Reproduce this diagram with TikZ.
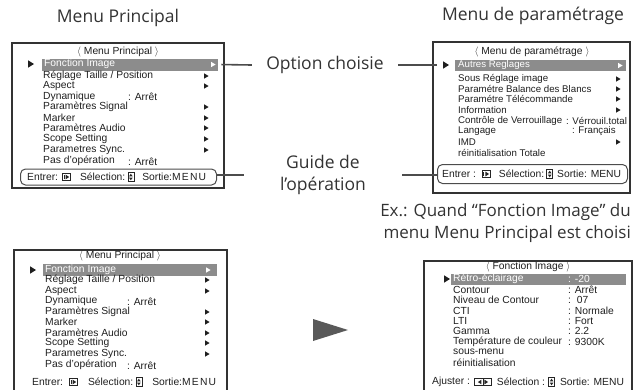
\documentclass[tikz,border=0pt]{standalone}
\usepackage{fontspec}
\setmainfont{Liberation Sans}
\newfontfamily\headfont{Open Sans}
\usetikzlibrary{positioning}

\tikzset{
  key/.style={draw=black!85, line width=0.6pt, inner sep=0pt, minimum width=8pt, minimum height=7pt},
  enterkey/.style={key, path picture={
      \fill[black!85] ([shift={(-1pt,-2.4pt)}]path picture bounding box.center) -- ++(3.6pt,2.4pt) -- ++(-3.6pt,2.4pt) -- cycle;
      \draw[black!85, line width=0.6pt] ([shift={(-2.8pt,-2.4pt)}]path picture bounding box.center) -- ++(0,4.8pt);}},
  selkey/.style={key, minimum width=6pt, minimum height=9pt, path picture={
      \fill[black!85] ([shift={(-1.8pt,0.7pt)}]path picture bounding box.center) -- ++(3.6pt,0) -- ++(-1.8pt,2.6pt) -- cycle;
      \fill[black!85] ([shift={(-1.8pt,-0.7pt)}]path picture bounding box.center) -- ++(3.6pt,0) -- ++(-1.8pt,-2.6pt) -- cycle;}},
  adjkey/.style={key, minimum width=17pt, path picture={
      \draw[black!85, line width=0.6pt] (path picture bounding box.north) -- (path picture bounding box.south);
      \fill[black!85] ([shift={(-1.5pt,-2.4pt)}]path picture bounding box.center) -- ++(-3.6pt,2.4pt) -- ++(3.6pt,2.4pt) -- cycle;
      \fill[black!85] ([shift={(1.5pt,-2.4pt)}]path picture bounding box.center) -- ++(3.6pt,2.4pt) -- ++(-3.6pt,2.4pt) -- cycle;}},
}

\begin{document}
\begin{tikzpicture}[x=1pt, y=-1pt,
    screen/.style={draw=black!80, line width=1.3pt},
    item/.style={anchor=west, inner sep=0pt, text=black!88, font=\fontsize{10.3}{11}\selectfont},
    itemsm/.style={item, font=\fontsize{9.7}{10}\selectfont},
    hlbar/.style={fill=black!45, inner sep=0pt, anchor=west, minimum height=12pt},
    heading/.style={inner sep=0pt, text=black!80, font=\headfont\fontsize{17.5}{22}\selectfont},
    guideframe/.style={draw=black!70, line width=1pt, rounded corners=5pt, inner sep=0pt, anchor=west},
    conn/.style={draw=black!70, line width=1.6pt},
    tri/.pic={\fill (-2,-2.7) -- (2.6,0) -- (-2,2.7) -- cycle;},
    mark/.pic={\fill (-2.8,-3.6) -- (3,0) -- (-2.8,3.6) -- cycle;},
  ]
  \useasboundingbox (0,0) rectangle (641,389);

  % Titles and callouts
  \node[heading] (h1) at (118,18) {Menu Principal};
  \node[heading] (h2) at (533,16) {Menu de paramétrage};
  \node[heading, minimum width=146pt] (opt) at (325,65) {Option choisie};
  \node[heading, minimum width=158pt, align=center] (guide) at (323,175) {Guide de\\l’opération};
  \node[heading, font=\headfont\fontsize{17}{22}\selectfont, anchor=east, align=right] (ex) at (631,223) {Ex.: Quand “Fonction Image” du\\menu Menu Principal est choisi};

  % Menu Principal (top)
  \draw[screen] (12,43) rectangle (224,188);
  \node[item, anchor=center] (t1) at (118,52) {$\langle$ Menu Principal $\rangle$};
  \node[hlbar, minimum width=176pt] (hl1) at (42,64.5) {};
  \pic[black!88] at (31,64) {mark};
  \node[item, text=white] (a1) at (44,64) {Fonction Image};
  \pic[white] at (213,64.5) {tri};
  \node[item] (a2) at (43,76) {Réglage Taille / Position};
  \node[item] (a3) at (43,86) {Aspect};
  \node[item] (a4) at (43,97) {Dynamique};
  \node[item] (a4v) at (128,97) {: Arrêt};
  \node[item] (a5) at (43,107) {Paramètres Signal};
  \node[item] (a6) at (43,118) {Marker};
  \node[item] (a7) at (43,128) {Paramètres Audio};
  \node[item] (a8) at (43,139) {Scope Setting};
  \node[item] (a9) at (43,150) {Parametres Sync.};
  \node[item] (a10) at (43,161) {Pas d’opération};
  \node[item] (a10v) at (128,162) {: Arrêt};
  \foreach \y in {76,86,107,118,128,139,150}
    \pic[black!88] at (206,\y) {tri};
  \node[guideframe, minimum width=196pt, minimum height=16pt] (fb1) at (20,177) {};
  \node[item] (e1) at (27,177) {Entrer:};
  \node[enterkey, right=4pt of e1] (k1) {};
  \node[item, right=9pt of k1] (s1) {Sélection:};
  \node[selkey, right=2pt of s1] (k2) {};
  \node[item, right=8pt of k2] (o1) {Sortie:{\addfontfeatures{LetterSpace=12}MENU}};

  % Menu de parametrage
  \draw[screen] (433,42) rectangle (630,193);
  \node[item, anchor=center] (t2) at (532,52) {$\langle$ Menu de paramétrage $\rangle$};
  \node[hlbar, minimum width=171pt, minimum height=11pt] (hl2) at (455,65.5) {};
  \coordinate (m2) at (446,65);
  \pic[black!88] at (m2) {mark};
  \node[itemsm, text=white] (b1) at (458,65) {Autres Reglages};
  \pic[white] at (620,65.5) {tri};
  \node[itemsm] (b2) at (458,79) {Sous Réglage image};
  \node[itemsm] (b3) at (458,89) {Paramétre Balance des Blancs};
  \node[itemsm] (b4) at (458,99) {Paramétre Télécommande};
  \node[itemsm] (b5) at (458,110) {Information};
  \node[itemsm] (b6) at (458,121) {Contrôle de Verrouillage};
  \node[itemsm] (b6v) at (566,121) {: Vérrouil.total};
  \node[itemsm] (b7) at (458,131) {Langage};
  \node[itemsm] (b7v) at (572,131) {: Français};
  \node[itemsm] (b8) at (458,142) {IMD};
  \node[itemsm] (b9) at (458,153) {réinitialisation Totale};
  \foreach \y in {79,89,99,110,142}
    \pic[black!88] at (618,\y) {tri};
  \node[guideframe, minimum width=190pt, minimum height=19pt] (fb2) at (437,174) {};
  \node[item] (e2) at (442,174) {Entrer :};
  \node[enterkey, right=6pt of e2] (k3) {};
  \node[item, right=8pt of k3] (s2) {Sélection:};
  \node[selkey, right=2pt of s2] (k4) {};
  \node[item, right=4pt of k4] (o2) {Sortie: MENU};

  % Menu Principal (bottom)
  \draw[screen] (14,392) |- (227,250) -- (227,392);
  \node[item, anchor=center] (t3) at (120,256) {$\langle$ Menu Principal $\rangle$};
  \node[hlbar, minimum width=174pt] (hl3) at (43,270) {};
  \pic[black!88] at (33,270) {mark};
  \node[item, text=white] (c1) at (45,270) {Fonction Image};
  \pic[white] at (208,270) {tri};
  \node[item] (c2) at (45,280) {Réglage Taille / Position};
  \node[item] (c3) at (45,291) {Aspect};
  \node[item] (c4) at (45,301) {Dynamique};
  \node[item] (c4v) at (127,302) {: Arrêt};
  \node[item] (c5) at (45,312) {Paramètres Signal};
  \node[item] (c6) at (45,322) {Marker};
  \node[item] (c7) at (45,333) {Paramètres Audio};
  \node[item] (c8) at (45,343) {Scope Setting};
  \node[item] (c9) at (45,354) {Parametres Sync.};
  \node[item] (c10) at (45,365) {Pas d’opération};
  \node[item] (c10v) at (127,366) {: Arrêt};
  \foreach \y in {280,291,312,322,333,343,354}
    \pic[black!88] at (207,\y) {tri};
  \node[item] (e3) at (32,382) {Entrer:};
  \node[enterkey, right=6pt of e3] (k5) {};
  \node[item, right=10pt of k5] (s3) {Sélection:};
  \node[selkey, right=2pt of s3] (k6) {};
  \node[item, right=10pt of k6] (o3) {Sortie:{\addfontfeatures{LetterSpace=12}MENU}};

  % Fonction Image
  \draw[screen] (424,392) |- (632,261) -- (632,392);
  \node[item, anchor=center] (t4) at (528,267) {$\langle$ Fonction Image $\rangle$};
  \node[hlbar, minimum width=175pt, minimum height=11pt] (hl4) at (451,279.5) {};
  \pic[black!88] at (447,279) {mark};
  \node[item, text=white] (d1) at (453,279) {Rétro-éclairage};
  \node[item, text=white] (d1v) at (568,279) {: -20};
  \node[item] (d2) at (453,290) {Contour};
  \node[item] (d2v) at (568,290) {: Arrêt};
  \node[item] (d3) at (453,300) {Niveau de Contour};
  \node[item] (d3v) at (568,300) {:\ \ 07};
  \node[item] (d4) at (453,311) {CTI};
  \node[item] (d4v) at (568,311) {: Normale};
  \node[item] (d5) at (453,321) {LTI};
  \node[item] (d5v) at (568,321) {: Fort};
  \node[item] (d6) at (453,331) {Gamma};
  \node[item] (d6v) at (568,331) {: 2.2};
  \node[item] (d7) at (453,342) {Température de couleur};
  \node[item] (d7v) at (568,342) {: 9300K};
  \node[item] (d8) at (453,352) {sous-menu};
  \node[item] (d9) at (453,363) {réinitialisation};
  \node[item] (e4) at (432,382) {Ajuster :};
  \node[adjkey, right=4pt of e4] (k7) {};
  \node[item, right=5pt of k7] (s4) {Sélection :};
  \node[selkey, right=3pt of s4] (k8) {};
  \node[item, right=5pt of k8] (o4) {Sortie: MENU};

  % big arrow between the screens
  \fill[black!65] (313,319) -- (348,330) -- (313,341) -- cycle;

  % Connectors
  \draw[conn, shorten <=3pt] (hl1.east) -- (opt.west);
  \draw[conn, shorten >=9pt] (opt.east) -- (m2);
  \draw[conn] (guide.west) -- (guide.west -| fb1.east);
  \draw[conn] (guide.east) -- (guide.east -| fb2.west);
\end{tikzpicture}
\end{document}
